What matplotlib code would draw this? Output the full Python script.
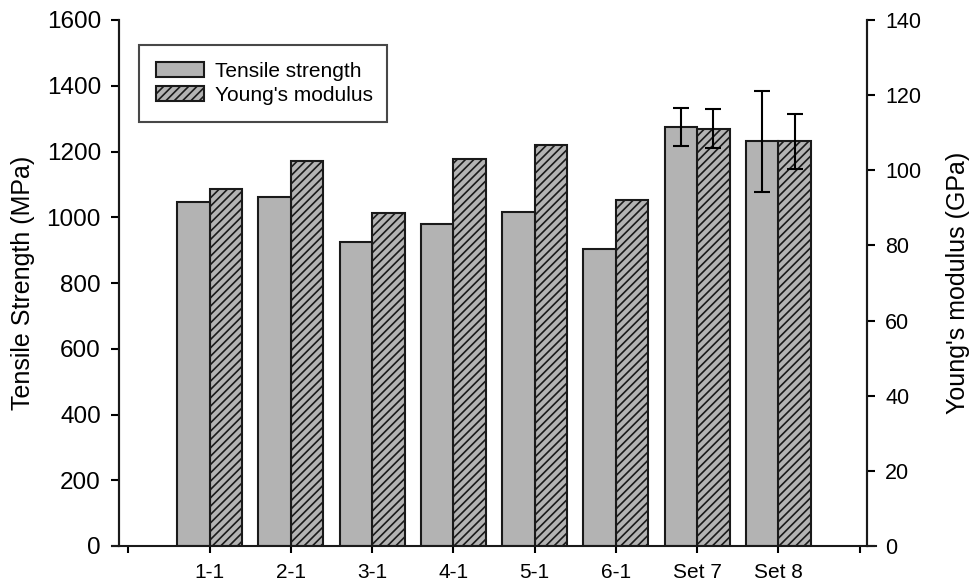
import numpy as np
import matplotlib
matplotlib.use("Agg")
import matplotlib.pyplot as plt
from matplotlib.lines import Line2D

plt.rcParams['font.family'] = ['Liberation Sans', 'DejaVu Sans']
plt.rcParams['hatch.linewidth'] = 1.2

categories = ['1-1', '2-1', '3-1', '4-1', '5-1', '6-1', 'Set 7', 'Set 8']
tensile = [1047, 1063, 925, 978, 1016, 903, 1274, 1231]
tensile_err = [0, 0, 0, 0, 0, 0, 58, 153]
modulus = [94.9, 102.4, 88.6, 102.9, 106.6, 92.1, 111.1, 107.7]
modulus_err = [0, 0, 0, 0, 0, 0, 5.3, 7.4]
left_ticks = [0, 200, 400, 600, 800, 1000, 1200, 1400, 1600]
right_ticks = [0, 20, 40, 60, 80, 100, 120, 140]

W, H = 979, 584
fig = plt.figure(figsize=(W / 100, H / 100), dpi=100)
ax = fig.add_axes([119 / W, 1 - 546 / H, (867 - 119) / W, (546 - 20) / H])
ax2 = ax.twinx()

x = np.arange(1, len(categories) + 1)
bw = 0.4
grey = '#b3b3b3'
edge = '#1a1a1a'

b1 = ax.bar(x - bw / 2, tensile, bw, color=grey, edgecolor=edge, linewidth=1.5,
            label='Tensile strength', zorder=2)
b2 = ax2.bar(x + bw / 2, modulus, bw, color=grey, edgecolor=edge, linewidth=1.5,
             hatch='////', label="Young's modulus", zorder=2)

te = np.array(tensile_err, dtype=float)
me = np.array(modulus_err, dtype=float)
mask = te > 0
ax.errorbar(x[mask] - bw / 2, np.array(tensile)[mask], yerr=te[mask], fmt='none',
            ecolor='black', elinewidth=1.5, capsize=5.5, capthick=1.5, zorder=3)
mask2 = me > 0
ax2.errorbar(x[mask2] + bw / 2, np.array(modulus)[mask2], yerr=me[mask2], fmt='none',
             ecolor='black', elinewidth=1.5, capsize=5.5, capthick=1.5, zorder=3)

ax.set_xlim(-0.115, 9.09)
ax.set_ylim(0, 1600)
ax2.set_ylim(0, 140)
ax.set_yticks(left_ticks)
ax2.set_yticks(right_ticks)
ax.set_xticks(np.arange(0, len(categories) + 2))
ax.set_xticklabels([''] + categories + [''])

for a in (ax, ax2):
    a.spines['top'].set_visible(False)
    a.spines['bottom'].set_visible(False)
    for s in a.spines.values():
        s.set_linewidth(1.5)
        s.set_color(edge)

ax.add_line(Line2D([-7 / 748, 1 + 9 / 748], [0, 0], transform=ax.transAxes,
                   color=edge, linewidth=1.5, clip_on=False, zorder=5))

ax.tick_params(axis='y', direction='out', length=6, width=1.5, pad=7, labelsize=17.5)
ax2.tick_params(axis='y', direction='out', length=6, width=1.5, pad=7, labelsize=15.5)
ax.tick_params(axis='x', direction='out', length=5, width=1.5, pad=7, labelsize=15)

ax.set_ylabel('Tensile Strength (MPa)', fontsize=18, labelpad=8)
ax2.set_ylabel("Young's modulus (GPa)", fontsize=18, labelpad=18)

lx0 = 20 / 748
ly1 = (546 - 45) / 526
lw = 248 / 748
lh = 75 / 526
leg = ax.legend([b1, b2], ['Tensile strength', "Young's modulus"],
                loc='upper left', bbox_to_anchor=(lx0, ly1 - lh, lw, lh), mode='expand',
                borderaxespad=0, fontsize=15, frameon=True, fancybox=False,
                handlelength=2.3, handleheight=0.72, handletextpad=0.55,
                labelspacing=0.25, borderpad=0.8)
leg.get_frame().set_edgecolor(edge)
leg.get_frame().set_linewidth(1.5)
leg.set_zorder(10)
ax.set_zorder(ax2.get_zorder() + 1)
ax.patch.set_visible(False)

fig.savefig('out.png', dpi=100)
